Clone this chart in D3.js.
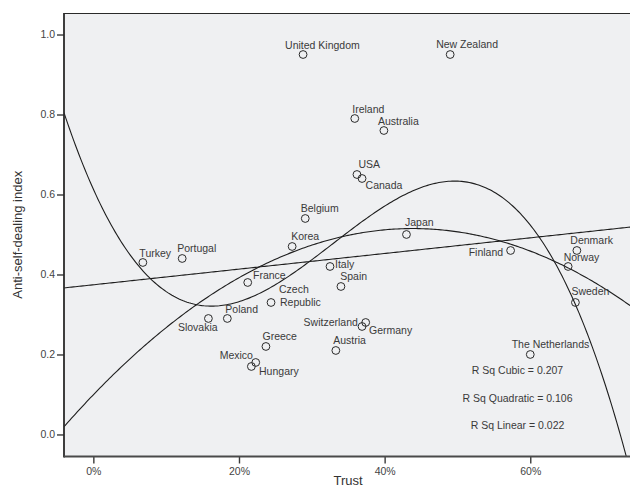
<!DOCTYPE html>
<html>
<head>
<meta charset="utf-8">
<script src="https://cdn.jsdelivr.net/npm/d3@7"></script>
<style>
  body { margin: 0; background: #fff; }
  text { font-family: "Liberation Sans", Arial, Helvetica, sans-serif; }
</style>
</head>
<body>
<svg id="chart" width="630" height="488"></svg>
<script>
// Countries, generalized trust (% who say most people can be trusted)
// and the anti-self-dealing index.
const countries = [
  "United Kingdom", "New Zealand", "Ireland", "Australia", "USA", "Canada",
  "Belgium", "Japan", "Korea", "Denmark", "Finland", "Turkey", "Portugal",
  "Italy", "Norway", "France", "Spain", "Czech Republic", "Sweden", "Slovakia",
  "Poland", "Germany", "Switzerland", "Greece", "Austria", "The Netherlands",
  "Hungary", "Mexico"
];
const trust = [
  28.8, 49.0, 35.9, 39.9, 36.2, 36.9,
  29.1, 43.0, 27.3, 66.4, 57.3, 6.8, 12.2,
  32.5, 65.2, 21.2, 34.0, 24.4, 66.2, 15.8,
  18.4, 37.4, 36.9, 23.7, 33.3, 60.0,
  22.3, 21.7
];
const antiSelfDealing = [
  0.95, 0.95, 0.79, 0.76, 0.65, 0.64,
  0.54, 0.50, 0.47, 0.46, 0.46, 0.43, 0.44,
  0.42, 0.42, 0.38, 0.37, 0.33, 0.33, 0.29,
  0.29, 0.28, 0.27, 0.22, 0.21, 0.20,
  0.18, 0.17
];
const xTicks = [0, 20, 40, 60];
const yTicks = [0.0, 0.2, 0.4, 0.6, 0.8, 1.0];
const fitOrders = [3, 2, 1];
const fitLabels = ["R Sq Cubic = 0.207", "R Sq Quadratic = 0.106", "R Sq Linear = 0.022"];

// Where each country's name sits relative to its marker.
const labelPlace = {
  "United Kingdom": { a: "start", dx: -18, dy: -6 },
  "New Zealand":    { a: "start", dx: -14, dy: -6.5 },
  "Ireland":        { a: "start", dx: -2.5, dy: -5.5 },
  "Australia":      { a: "start", dx: -6, dy: -6 },
  "USA":            { a: "start", dx: 1.5, dy: -6 },
  "Canada":         { a: "start", dx: 3.5, dy: 11 },
  "Belgium":        { a: "start", dx: -4.5, dy: -6 },
  "Japan":          { a: "start", dx: -1.5, dy: -8 },
  "Korea":          { a: "start", dx: -1, dy: -6.5 },
  "Denmark":        { a: "start", dx: -6.5, dy: -6 },
  "Finland":        { a: "end",   dx: -7.5, dy: 5.8 },
  "Turkey":         { a: "start", dx: -3.5, dy: -5.5 },
  "Portugal":       { a: "start", dx: -5, dy: -6 },
  "Italy":          { a: "start", dx: 5, dy: 1.4 },
  "Norway":         { a: "start", dx: -4.5, dy: -5.2 },
  "France":         { a: "start", dx: 5.3, dy: -3.6 },
  "Spain":          { a: "start", dx: -0.7, dy: -6 },
  "Czech Republic": { a: "start", dx: 8, dy: -9.6, lines: ["Czech", "Republic"], lineDx: [0, 1], lineDy: [0, 13] },
  "Sweden":         { a: "start", dx: -4, dy: -7 },
  "Slovakia":       { a: "start", dx: -30.5, dy: 12.4 },
  "Poland":         { a: "start", dx: -2, dy: -5.5 },
  "Germany":        { a: "start", dx: 3.3, dy: 11.4 },
  "Switzerland":    { a: "end",   dx: -4.2, dy: -0.2 },
  "Greece":         { a: "start", dx: -3.4, dy: -6 },
  "Austria":        { a: "start", dx: -2.7, dy: -6 },
  "The Netherlands":{ a: "start", dx: -18.6, dy: -6 },
  "Hungary":        { a: "start", dx: 3.3, dy: 12.5 },
  "Mexico":         { a: "end",   dx: 1.6, dy: -7 }
};

const W = 630, H = 488;
const plot = { left: 64, right: 632, top: 13, bottom: 456.5 };

const x = d3.scaleLinear().domain([-4.03, 73.97]).range([plot.left, plot.right]);
const y = d3.scaleLinear().domain([-0.0551, 1.0538]).range([plot.bottom, plot.top]);

const svg = d3.select("#chart");

// Plot background
svg.append("rect")
  .attr("x", plot.left).attr("y", plot.top)
  .attr("width", plot.right - plot.left).attr("height", plot.bottom - plot.top)
  .attr("fill", "#eff0f2");

svg.append("clipPath").attr("id", "plotClip")
  .append("rect")
  .attr("x", plot.left).attr("y", plot.top)
  .attr("width", plot.right - plot.left).attr("height", plot.bottom - plot.top);

// Polynomial least-squares fit of a given order (x as fraction of 1).
function polyFit(xs, ys, order) {
  const m = order + 1;
  const A = Array.from({ length: m }, () => new Array(m + 1).fill(0));
  xs.forEach((xv, i) => {
    const p = [];
    for (let k = 0; k < m; k++) p.push(Math.pow(xv, k));
    for (let r = 0; r < m; r++) {
      for (let c = 0; c < m; c++) A[r][c] += p[r] * p[c];
      A[r][m] += p[r] * ys[i];
    }
  });
  for (let col = 0; col < m; col++) {
    let piv = col;
    for (let r = col + 1; r < m; r++) if (Math.abs(A[r][col]) > Math.abs(A[piv][col])) piv = r;
    [A[col], A[piv]] = [A[piv], A[col]];
    for (let r = 0; r < m; r++) {
      if (r === col) continue;
      const f = A[r][col] / A[col][col];
      for (let c = col; c <= m; c++) A[r][c] -= f * A[col][c];
    }
  }
  return A.map((row, i) => row[m] / row[i]);
}

const xs = trust.map(t => t / 100);
const curveGroup = svg.append("g").attr("clip-path", "url(#plotClip)");
const line = d3.line().x(d => x(d[0])).y(d => y(d[1]));
const [x0, x1] = x.domain();

fitOrders.forEach(order => {
  const coef = polyFit(xs, antiSelfDealing, order);
  const pts = d3.range(0, 301).map(i => {
    const t = x0 + (x1 - x0) * i / 300;
    const u = t / 100;
    const v = coef.reduce((s, c, k) => s + c * Math.pow(u, k), 0);
    return [t, v];
  });
  curveGroup.append("path")
    .attr("d", line(pts))
    .attr("fill", "none")
    .attr("stroke", "#1e1e1e")
    .attr("stroke-width", 1.1);
});

// Country markers
const pts = countries.map((name, i) => ({ name, t: trust[i], v: antiSelfDealing[i] }));
svg.append("g").selectAll("circle").data(pts).join("circle")
  .attr("cx", d => x(d.t)).attr("cy", d => y(d.v)).attr("r", 3.9)
  .attr("fill", "none").attr("stroke", "#2a2a2a").attr("stroke-width", 1);

// Country names
const labels = svg.append("g")
  .attr("font-size", 10.5).attr("fill", "#3a3a3a");
pts.forEach(d => {
  const p = labelPlace[d.name];
  const tx = x(d.t) + p.dx, ty = y(d.v) + p.dy;
  const txt = labels.append("text").attr("text-anchor", p.a).attr("x", tx).attr("y", ty);
  if (p.lines) {
    p.lines.forEach((ln, k) => {
      txt.append("tspan").attr("x", tx + p.lineDx[k]).attr("y", ty + p.lineDy[k]).text(ln);
    });
  } else {
    txt.text(d.name);
  }
});

// Fit statistics
svg.append("g").attr("font-size", 10.5).attr("fill", "#3a3a3a")
  .selectAll("text").data(fitLabels).join("text")
  .attr("x", 517.5).attr("y", (d, i) => 374 + i * 27.5)
  .attr("text-anchor", "middle").text(d => d);

// Frame
svg.append("line")
  .attr("x1", plot.left).attr("x2", W).attr("y1", plot.top + 0.5).attr("y2", plot.top + 0.5)
  .attr("stroke", "#2a2a2a").attr("stroke-width", 1);

// Axes
const yAxis = d3.axisLeft(y).tickValues(yTicks).tickFormat(d3.format(".1f")).tickSize(7).tickPadding(2);
const gy = svg.append("g").attr("transform", `translate(${plot.left},0)`).call(yAxis);
const xAxis = d3.axisBottom(x).tickValues(xTicks).tickFormat(d => d + "%").tickSize(7).tickPadding(4);
const gx = svg.append("g").attr("transform", `translate(0,${plot.bottom})`).call(xAxis);

[gx, gy].forEach(g => {
  g.select(".domain").remove();
  g.selectAll(".tick line").attr("stroke", "#3a3a3a").attr("stroke-width", 1.4);
  g.selectAll(".tick text").attr("fill", "#444").attr("font-size", 10.5)
    .attr("font-family", '"Liberation Sans", Arial, sans-serif');
});

svg.append("line")
  .attr("x1", plot.left).attr("x2", plot.left).attr("y1", plot.top).attr("y2", plot.bottom + 1)
  .attr("stroke", "#2a2a2a").attr("stroke-width", 1.8);
svg.append("line")
  .attr("x1", plot.left).attr("x2", W).attr("y1", plot.bottom).attr("y2", plot.bottom)
  .attr("stroke", "#4a4a4a").attr("stroke-width", 2);

// Axis titles
svg.append("text")
  .attr("x", (plot.left + plot.right) / 2).attr("y", 485)
  .attr("text-anchor", "middle").attr("font-size", 13).attr("fill", "#333")
  .text("Trust");
svg.append("text")
  .attr("transform", `translate(22,${(plot.top + plot.bottom) / 2}) rotate(-90)`)
  .attr("text-anchor", "middle").attr("font-size", 13).attr("fill", "#333")
  .text("Anti-self-dealing index");
</script>
</body>
</html>
